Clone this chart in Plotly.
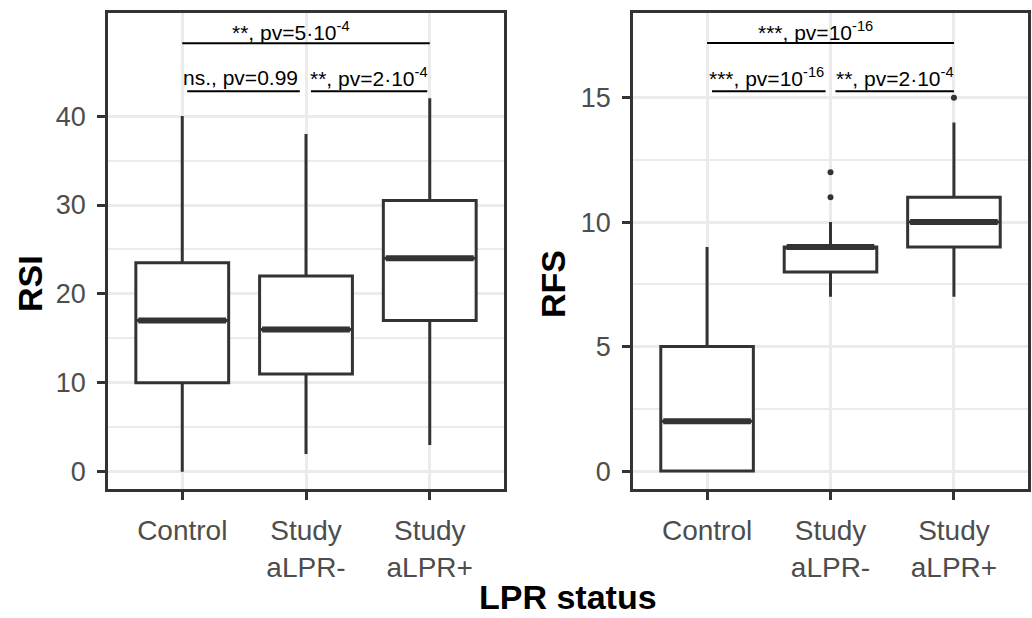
import plotly.graph_objects as go

# ---- data ----
categories = ["Control", "Study<br>aLPR-", "Study<br>aLPR+"]
positions = [0, 1, 2]

rsi_low = [0, 2, 3]
rsi_q1 = [10, 11, 17]
rsi_med = [17, 16, 24]
rsi_q3 = [23.5, 22, 30.5]
rsi_high = [40, 38, 42]

rfs_low = [0, 7, 7]
rfs_q1 = [0, 8, 9]
rfs_med = [2, 9, 10]
rfs_q3 = [5, 9, 11]
rfs_high = [9, 10, 14]
rfs_out_x = [1, 1, 2]
rfs_out_y = [11, 12, 15]

rsi_ticks = [0, 10, 20, 30, 40]
rsi_minor = [5, 15, 25, 35]
rfs_ticks = [0, 5, 10, 15]
rfs_minor = [2.5, 7.5, 12.5]

# significance brackets: (x0, x1, y_line, x_text, y_text, label)
rsi_sig = [
    (0.0, 2.0, 48.2, 0.88, 49.6, "**, pv=5·10<sup>-4</sup>"),
    (0.04, 0.95, 42.8, 0.47, 44.4, "ns., pv=0.99"),
    (1.04, 1.98, 42.8, 1.51, 44.4, "**, pv=2·10<sup>-4</sup>"),
]
rfs_sig = [
    (0.0, 2.0, 17.19, 0.88, 17.67, "***, pv=10<sup>-16</sup>"),
    (0.04, 0.96, 15.26, 0.48, 15.82, "***, pv=10<sup>-16</sup>"),
    (1.04, 2.0, 15.26, 1.52, 15.82, "**, pv=2·10<sup>-4</sup>"),
]

BOX_W = 0.75
DARK = "#333333"
GRID = "#EBEBEB"
FONT = "Liberation Sans, Arial, sans-serif"
W, H = 1032, 618

fig = go.Figure()


def add_panel(xa, ya, low, q1, med, q3, high):
    fig.add_trace(go.Box(
        x=positions, q1=q1, median=med, q3=q3, lowerfence=low, upperfence=high,
        width=BOX_W, whiskerwidth=0, fillcolor="white",
        line=dict(color=DARK, width=3), boxpoints=False,
        xaxis=xa, yaxis=ya, showlegend=False, hoverinfo="skip"))
    mx, my = [], []
    for p, m in zip(positions, med):
        mx += [p - BOX_W / 2 + 0.02, p + BOX_W / 2 - 0.02, None]
        my += [m, m, None]
    fig.add_trace(go.Scatter(x=mx, y=my, mode="lines",
                             line=dict(color=DARK, width=6),
                             xaxis=xa, yaxis=ya, showlegend=False, hoverinfo="skip"))


add_panel("x", "y", rsi_low, rsi_q1, rsi_med, rsi_q3, rsi_high)
add_panel("x2", "y2", rfs_low, rfs_q1, rfs_med, rfs_q3, rfs_high)
fig.add_trace(go.Scatter(x=rfs_out_x, y=rfs_out_y, mode="markers",
                         marker=dict(color=DARK, size=6),
                         xaxis="x2", yaxis="y2", showlegend=False, hoverinfo="skip"))


def xaxis_cfg(domain, anchor):
    return dict(domain=domain, anchor=anchor, range=[-0.6, 2.6],
                tickvals=positions, ticktext=categories,
                showgrid=True, gridcolor=GRID, gridwidth=2.5,
                showline=True, linecolor=DARK, linewidth=2.5, mirror=True,
                ticks="outside", ticklen=8, tickwidth=2.5, tickcolor=DARK,
                tickfont=dict(family=FONT, size=28, color="#4D4D4D"),
                ticklabelstandoff=7, zeroline=False, fixedrange=True)


def yaxis_cfg(domain, anchor, rng, ticks, minor):
    return dict(domain=domain, anchor=anchor, range=rng,
                tickvals=ticks, showgrid=True, gridcolor=GRID, gridwidth=2.5,
                minor=dict(tickvals=minor, showgrid=True, gridcolor=GRID,
                           gridwidth=1.5, ticks=""),
                showline=True, linecolor=DARK, linewidth=2.5, mirror=True,
                ticks="outside", ticklen=8, tickwidth=2.5, tickcolor=DARK,
                tickfont=dict(family=FONT, size=27, color="#4D4D4D"),
                ticklabelstandoff=6, zeroline=False, fixedrange=True)


x1d = [108 / W, 504 / W]
x2d = [633 / W, 1028 / W]
yd = [1 - 489 / H, 1 - 13 / H]

fig.update_layout(
    width=W, height=H, margin=dict(l=0, r=0, t=0, b=0),
    paper_bgcolor="white", plot_bgcolor="white",
    xaxis=xaxis_cfg(x1d, "y"), yaxis=yaxis_cfg(yd, "x", [-1.95, 51.6], rsi_ticks, rsi_minor),
    xaxis2=xaxis_cfg(x2d, "y2"), yaxis2=yaxis_cfg(yd, "x2", [-0.72, 18.4], rfs_ticks, rfs_minor),
)

for xr, yr, sig in [("x", "y", rsi_sig), ("x2", "y2", rfs_sig)]:
    for x0, x1, yl, xt, yt, lab in sig:
        fig.add_shape(type="line", xref=xr, yref=yr, x0=x0, x1=x1, y0=yl, y1=yl,
                      line=dict(color="black", width=2))
        fig.add_annotation(xref=xr, yref=yr, x=xt, y=yt, text=lab, showarrow=False,
                           xanchor="center", yanchor="middle",
                           font=dict(family=FONT, size=21, color="black"))

# axis titles
fig.add_annotation(xref="paper", yref="paper", x=30 / W, y=1 - 284 / H, text="<b>RSI</b>",
                   textangle=-90, showarrow=False, xanchor="center", yanchor="middle",
                   font=dict(family=FONT, size=34, color="black"))
fig.add_annotation(xref="paper", yref="paper", x=553 / W, y=1 - 284 / H, text="<b>RFS</b>",
                   textangle=-90, showarrow=False, xanchor="center", yanchor="middle",
                   font=dict(family=FONT, size=34, color="black"))
fig.add_annotation(xref="paper", yref="paper", x=568 / W, y=0, text="<b>LPR status</b>",
                   showarrow=False, xanchor="center", yanchor="bottom",
                   font=dict(family=FONT, size=34, color="black"))

fig.write_html("out.html")
